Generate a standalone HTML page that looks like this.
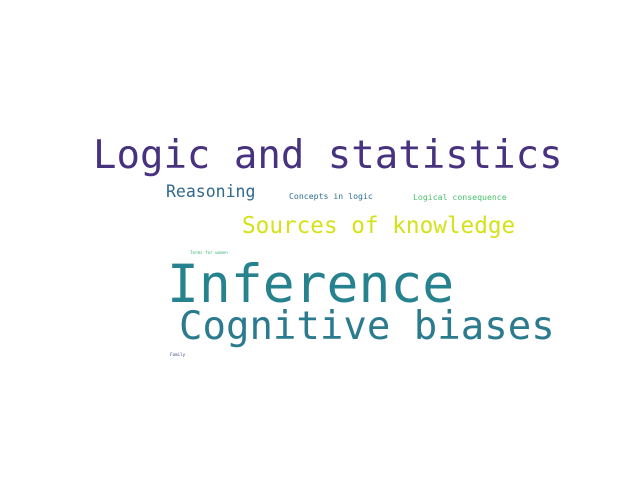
<!DOCTYPE html>
<html><head><meta charset="utf-8"><style>html,body{margin:0;padding:0;background:#fff}svg{display:block}text{font-family:"DejaVu Sans Mono","Liberation Mono",monospace}</style></head>
<body>
<svg width="640" height="480" viewBox="0 0 640 480">
<rect width="640" height="480" fill="#fff"/>
<text x="93" y="168" font-size="39" fill="#46327e">Logic and statistics</text>
<text x="167" y="302" font-size="53" fill="#26828e">Inference</text>
<text x="179" y="339" font-size="39" fill="#2c7a8e">Cognitive biases</text>
<text x="242" y="233" font-size="22.7" fill="#d5e21a">Sources of knowledge</text>
<text x="166" y="197" font-size="16.5" fill="#31688e">Reasoning</text>
<text x="289" y="199" font-size="8.2" fill="#2e6f8e">Concepts in logic</text>
<text x="413" y="200" font-size="8.2" fill="#4ac16d">Logical consequence</text>
<text x="190" y="254" font-size="4.2" fill="#35b779">Terms for women</text>
<text x="170" y="356" font-size="4.2" fill="#3e4a89">Family</text>
</svg>
</body></html>
